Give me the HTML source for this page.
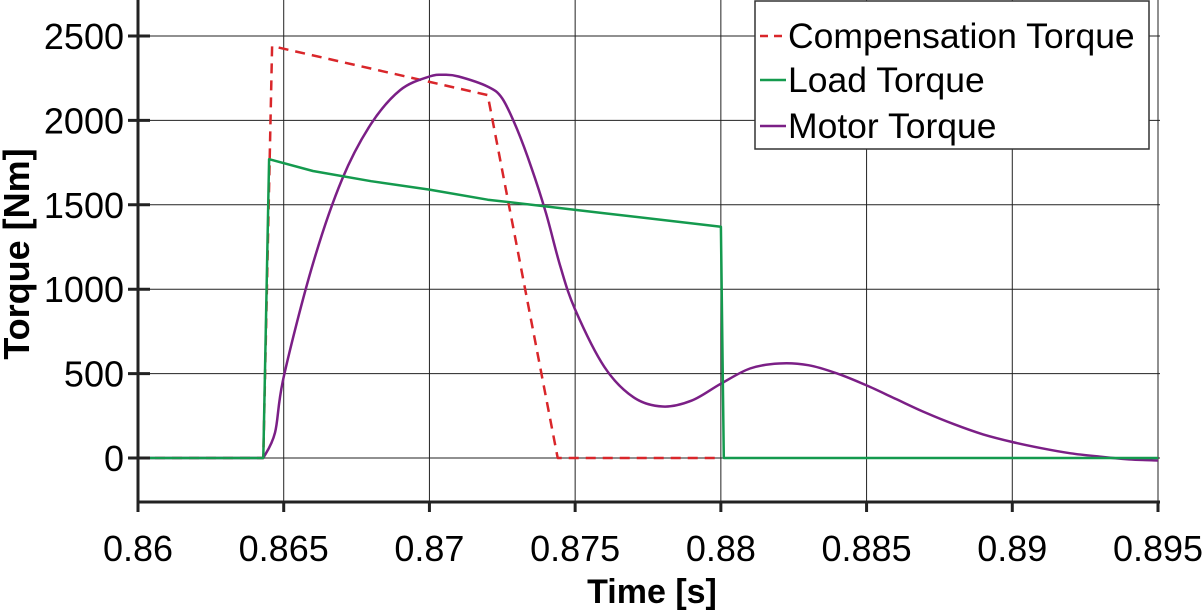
<!DOCTYPE html>
<html><head><meta charset="utf-8"><style>
body{margin:0;background:#fff;width:1204px;height:611px;overflow:hidden}
svg{font-family:"Liberation Sans",Arial,sans-serif}
</style></head><body>
<svg id="chart" width="1204" height="611">
<g id="grid"></g>
<g id="series"></g>
<g id="axes"></g>
<text x="652" y="603" text-anchor="middle" font-size="34" font-weight="bold">Time [s]</text>
<text transform="translate(29,254) rotate(-90)" text-anchor="middle" font-size="36" font-weight="bold">Torque [Nm]</text>
<g>
<rect x="755" y="1" width="394" height="148" fill="#fff" stroke="#333" stroke-width="1.5"/>
<g><line x1="760" y1="36" x2="786" y2="36" stroke="#d9262a" stroke-width="2.5" stroke-dasharray="8,6"/><text x="788" y="48" font-size="35.5">Compensation Torque</text></g>
<g><line x1="760" y1="80" x2="786" y2="80" stroke="#149a4e" stroke-width="2.5"/><text x="788" y="92" font-size="35.5">Load Torque</text></g>
<g><line x1="760" y1="126" x2="786" y2="126" stroke="#7b1f86" stroke-width="2.5"/><text x="788" y="138" font-size="35.5">Motor Torque</text></g>
</g>
</svg>
<script>
const xTicks=[0.86,0.865,0.87,0.875,0.88,0.885,0.89,0.895];
const xTickLabels=["0.86","0.865","0.87","0.875","0.88","0.885","0.89","0.895"];
const yTicks=[0,500,1000,1500,2000,2500];
const compT=[0.86,0.8643,0.8646,0.872,0.8744,0.880];
const compV=[0,0,2440,2150,0,0];
const loadT=[0.86,0.8643,0.8645,0.866,0.868,0.870,0.872,0.876,0.880,0.8801,0.895];
const loadV=[0,0,1770,1700,1640,1590,1530,1450,1370,0,0];
const motorT=[0.8643,0.8647,0.865,0.866,0.867,0.868,0.869,0.870,0.8705,0.871,0.872,0.8725,0.873,0.8735,0.874,0.8745,0.875,0.876,0.877,0.878,0.879,0.880,0.881,0.882,0.883,0.884,0.885,0.886,0.887,0.888,0.889,0.890,0.891,0.892,0.893,0.894,0.895];
const motorV=[0,150,480,1150,1650,1980,2180,2260,2270,2260,2200,2130,1950,1720,1450,1130,880,540,360,305,340,440,530,560,550,500,430,350,270,200,140,95,58,28,8,-8,-15];
const X=t=>138+(t-0.86)/0.035*1020;
const Y=v=>458-v*0.1688;
const NS="http://www.w3.org/2000/svg";
function mk(p,tag,a){const e=document.createElementNS(NS,tag);for(const k in a)e.setAttribute(k,a[k]);p.appendChild(e);return e;}
const grid=document.getElementById('grid'),axes=document.getElementById('axes'),ser=document.getElementById('series');
xTicks.forEach((t,i)=>{
 const g=mk(grid,'line',{x1:X(t),y1:0,x2:X(t),y2:502,stroke:'#222','stroke-width':1});
 
 
 const tk=mk(axes,'line',{x1:X(t),y1:502,x2:X(t),y2:512,stroke:'#222','stroke-width':3});
 
 
 const tx=mk(axes,'text',{x:X(t),y:561,'text-anchor':'middle','font-size':36});
 tx.textContent=xTickLabels[i];
 
 
});
yTicks.forEach(v=>{
 const g=mk(grid,'line',{x1:138,y1:Y(v),x2:1160,y2:Y(v),stroke:'#222','stroke-width':1});
 
 
 const tk=mk(axes,'line',{x1:128,y1:Y(v),x2:150,y2:Y(v),stroke:'#222','stroke-width':3});
 
 
 const tx=mk(axes,'text',{x:124,y:Y(v)+13,'text-anchor':'end','font-size':36});
 tx.textContent=String(v);
 
 
});
const ax=mk(axes,'path',{d:'M138,0 V502 H1160',fill:'none',stroke:'#222','stroke-width':3});


function add(d,col,dash,name){
 const p=mk(ser,'path',{d:d,fill:'none',stroke:col,'stroke-width':2.5,'stroke-linejoin':'round'});
 if(dash)p.setAttribute('stroke-dasharray',dash);
 
 
}
function poly(T,V){return T.map((t,i)=>(i?'L':'M')+X(t).toFixed(1)+','+Y(V[i]).toFixed(1)).join(' ');}
function smooth(T,V){
 const P=T.map((t,i)=>[X(t),Y(V[i])]);
 let d='M'+X(0.86)+','+Y(0)+' L'+P[0][0].toFixed(1)+','+P[0][1].toFixed(1);
 for(let i=0;i<P.length-1;i++){
  const p0=P[Math.max(0,i-1)],p1=P[i],p2=P[i+1],p3=P[Math.min(P.length-1,i+2)];
  const c1=[p1[0]+(p2[0]-p0[0])/6,p1[1]+(p2[1]-p0[1])/6];
  const c2=[p2[0]-(p3[0]-p1[0])/6,p2[1]-(p3[1]-p1[1])/6];
  d+=' C'+c1.map(v=>v.toFixed(1)).join(',')+' '+c2.map(v=>v.toFixed(1)).join(',')+' '+p2.map(v=>v.toFixed(1)).join(',');
 }
 return d;
}
add(poly(compT,compV),'#d9262a','10,7','compensation-torque-line');
add(smooth(motorT,motorV),'#7b1f86',null,'motor-torque-line');
add(poly(loadT,loadV),'#149a4e',null,'load-torque-line');
</script>
</body></html>
